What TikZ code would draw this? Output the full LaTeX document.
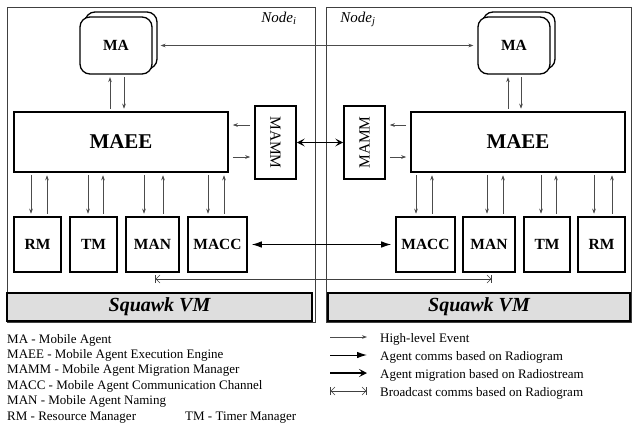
\documentclass[tikz,border=0pt]{standalone}
\usepackage{fontspec}
\setmainfont{Liberation Serif}
\usetikzlibrary{arrows.meta}
\begin{document}
\begin{tikzpicture}[x=1pt,y=-1pt,
  hltip/.tip={Stealth[length=5pt,width=3.6pt]},
  commtip/.tip={Latex[length=10pt,width=6.5pt]},
  migtip/.tip={Stealth[length=8pt,width=8pt,inset=3.5pt]},
  outer/.style={draw=black!75, line width=1pt, minimum height=315pt, inner sep=0pt},
  vmbox/.style={draw=black, line width=1.6pt, fill=black!13, minimum height=28pt, inner sep=0pt,
     font=\fontsize{20}{22}\selectfont\bfseries\itshape},
  mabox/.style={draw=black, line width=1.3pt, fill=white, rounded corners=10pt, minimum width=72pt, minimum height=57pt,
     inner sep=0pt, font=\fontsize{15.5}{18}\selectfont\bfseries},
  bigbox/.style={draw=black, line width=1.6pt, minimum width=214pt, minimum height=60pt, inner sep=0pt,
     font=\fontsize{21}{23}\selectfont\bfseries},
  mammbox/.style={draw=black, line width=1.6pt, minimum width=73pt, minimum height=41pt, inner sep=0pt,
     font=\fontsize{15.5}{18}\selectfont},
  smallbox/.style={draw=black, line width=1.6pt, minimum height=55pt, inner sep=0pt,
     font=\fontsize{15.5}{18}\selectfont\bfseries},
  hl/.style={draw=black!70, line width=0.6pt, -hltip, shorten >=2.5pt, shorten <=2.5pt},
  comm/.style={draw=black, line width=1pt},
  mig/.style={draw=black, line width=1.2pt},
  bcast/.style={draw=black!75, line width=0.6pt},
  legtext/.style={anchor=base west, inner sep=0pt, font=\fontsize{13}{15}\selectfont},
  nodelab/.style={anchor=base, inner sep=0pt, font=\fontsize{15}{17}\selectfont\itshape}
]
\useasboundingbox (0,0) rectangle (632,426);

% outer node frames
\node[outer, minimum width=308pt] (nodeI) at (161,164.5) {};
\node[outer, minimum width=305pt] (nodeJ) at (478.5,164.5) {};
\node[nodelab] (labI) at (279,22) {Node\textsubscript{\textit{i}}};
\node[nodelab] (labJ) at (358,22) {Node\textsubscript{\textit{j}}};

% Squawk VM
\node[vmbox, minimum width=305pt] (vmL) at (159.5,307) {Squawk VM};
\node[vmbox, minimum width=302pt] (vmR) at (479,307) {Squawk VM};

% MA boxes (stacked)
\node[mabox] (maLb) at (121,40.5) {};
\node[mabox] (maL) at (116,45.5) {MA};
\node[mabox] (maRb) at (519,40.5) {};
\node[mabox] (maR) at (514,45.5) {MA};

% MAEE
\node[bigbox] (maeeL) at (121,142) {MAEE};
\node[bigbox] (maeeR) at (518,142) {MAEE};

% MAMM
\node[mammbox, rotate=-90] (mammL) at (275.5,142.5) {MAMM};
\node[mammbox, rotate=90] (mammR) at (364.5,142.5) {MAMM};

% bottom rows
\node[smallbox, minimum width=47pt] (rmL) at (37.5,244.5) {RM};
\node[smallbox, minimum width=47pt] (tmL) at (93.5,244.5) {TM};
\node[smallbox, minimum width=53pt] (manL) at (152.5,244.5) {MAN};
\node[smallbox, minimum width=59pt] (maccL) at (217.5,244.5) {MACC};
\node[smallbox, minimum width=59pt] (maccR) at (425.5,244.5) {MACC};
\node[smallbox, minimum width=52pt] (manR) at (489,244.5) {MAN};
\node[smallbox, minimum width=46pt] (tmR) at (547,244.5) {TM};
\node[smallbox, minimum width=47pt] (rmR) at (601.5,244.5) {RM};

% MA <-> MA
\draw[hl, hltip-hltip, shorten <=8pt, shorten >=4pt] (maL.east) -- (maR.west);

% MA - MAEE
\draw[hl] (maeeL.north -| 110,0) -- (maL.south -| 110,0);
\draw[hl] (maL.south -| 124,0) -- (maeeL.north -| 124,0);
\draw[hl] (maeeR.north -| 508,0) -- (maR.south -| 508,0);
\draw[hl] (maR.south -| 521,0) -- (maeeR.north -| 521,0);

% MAEE - MAMM
\draw[hl, shorten <=4pt, shorten >=4pt] (mammL.south |- 0,125) -- (maeeL.east |- 0,125);
\draw[hl, shorten <=4pt, shorten >=4pt] (maeeL.east |- 0,157) -- (mammL.south |- 0,157);
\draw[hl, shorten <=4pt, shorten >=4pt] (maeeR.west |- 0,125) -- (mammR.south |- 0,125);
\draw[hl, shorten <=4pt, shorten >=4pt] (mammR.south |- 0,157) -- (maeeR.west |- 0,157);

% MAMM <-> MAMM
\draw[mig, migtip-migtip] (mammL.north) -- (mammR.north);

% MAEE - lower boxes (left)
\draw[hl] (maeeL.south -| 31,0) -- (rmL.north -| 31,0);
\draw[hl] (rmL.north -| 47,0) -- (maeeL.south -| 47,0);
\draw[hl] (maeeL.south -| 88,0) -- (tmL.north -| 88,0);
\draw[hl] (tmL.north -| 103,0) -- (maeeL.south -| 103,0);
\draw[hl] (maeeL.south -| 144,0) -- (manL.north -| 144,0);
\draw[hl] (manL.north -| 163,0) -- (maeeL.south -| 163,0);
\draw[hl] (maeeL.south -| 208,0) -- (maccL.north -| 208,0);
\draw[hl] (maccL.north -| 224,0) -- (maeeL.south -| 224,0);
% (right)
\draw[hl] (maeeR.south -| 416,0) -- (maccR.north -| 416,0);
\draw[hl] (maccR.north -| 432,0) -- (maeeR.south -| 432,0);
\draw[hl] (maeeR.south -| 487,0) -- (manR.north -| 487,0);
\draw[hl] (manR.north -| 503,0) -- (maeeR.south -| 503,0);
\draw[hl] (maeeR.south -| 541,0) -- (tmR.north -| 541,0);
\draw[hl] (tmR.north -| 556,0) -- (maeeR.south -| 556,0);
\draw[hl] (maeeR.south -| 594,0) -- (rmR.north -| 594,0);
\draw[hl] (rmR.north -| 612,0) -- (maeeR.south -| 612,0);

% MACC <-> MACC
\draw[comm, commtip-commtip, shorten <=4pt, shorten >=4pt] (maccL.east) -- (maccR.west);

% broadcast
\coordinate (bcL) at (155,279);
\coordinate (bcR) at (492,279);
\draw[bcast, {Bar[width=8pt]Straight Barb[length=4pt,width=8pt]}-{Straight Barb[length=4pt,width=8pt]Bar[width=8pt]}] (bcL) -- (bcR);

% legend left
\node[legtext] (l1) at (7,343) {MA - Mobile Agent};
\node[legtext] (l2) at (7,358.4) {MAEE - Mobile Agent Execution Engine};
\node[legtext] (l3) at (7,373.8) {MAMM - Mobile Agent Migration Manager};
\node[legtext] (l4) at (7,389.2) {MACC - Mobile Agent Communication Channel};
\node[legtext] (l5) at (7,404.6) {MAN - Mobile Agent Naming};
\node[legtext] (l6) at (7,420) {RM - Resource Manager};
\node[legtext] (l7) at (185,420) {TM - Timer Manager};

% legend right
\coordinate (a1s) at (330,337); \coordinate (a1e) at (367,337);
\coordinate (a2s) at (330,355); \coordinate (a2e) at (367,355);
\coordinate (a3s) at (330,373); \coordinate (a3e) at (367,373);
\coordinate (a4s) at (330,391); \coordinate (a4e) at (367,391);
\draw[draw=black!70, line width=0.6pt, -hltip] (a1s) -- (a1e);
\draw[comm, -commtip] (a2s) -- (a2e);
\draw[mig, -migtip] (a3s) -- (a3e);
\draw[bcast, {Bar[width=8pt]Straight Barb[length=4pt,width=8pt]}-{Straight Barb[length=4pt,width=8pt]Bar[width=8pt]}] (a4s) -- (a4e);
\node[legtext] (r1) at (380,342) {High-level Event};
\node[legtext] (r2) at (380,360) {Agent comms based on Radiogram};
\node[legtext] (r3) at (380,378) {Agent migration based on Radiostream};
\node[legtext] (r4) at (380,396) {Broadcast comms based on Radiogram};
\end{tikzpicture}
\end{document}
